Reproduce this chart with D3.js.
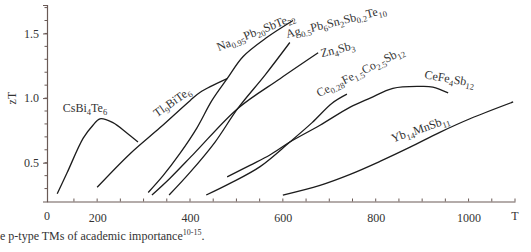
<!DOCTYPE html>
<html>
<head>
<meta charset="utf-8">
<script src="https://cdn.jsdelivr.net/npm/d3@7/dist/d3.min.js"></script>
<style>
  html, body { margin: 0; padding: 0; background: #fff; }
  svg { display: block; }
  svg text { font-family: "Liberation Serif", "Times New Roman", "DejaVu Serif", serif !important; fill: #333; }
</style>
</head>
<body>
<svg id="chart" width="531" height="252" font-family="Liberation Serif"></svg>
<script>
// ---- data (T in K, zT) ----
const csBi4Te6 = [[114,0.26],[135,0.42],[170,0.69],[191,0.79],[206,0.84],[234,0.81],[264,0.73],[288,0.66]];
const tl9BiTe6 = [[200,0.31],[271,0.57],[335,0.77],[400,0.98],[422,1.045],[480,1.15]];
const naPbSbTe = [[310,0.27],[342,0.40],[378,0.57],[415,0.77],[447,0.98],[480,1.15],[514,1.32],[566,1.47],[622,1.60]];
const zn4Sb3   = [[318,0.25],[357,0.38],[411,0.58],[503,0.92],[594,1.15],[676,1.35]];
const agPbSnSbTe = [[355,0.25],[400,0.425],[454,0.66],[503,0.92],[562,1.18],[615,1.43]];
const ceFeCoSb = [[435,0.25],[486,0.34],[551,0.47],[615,0.66],[663,0.81],[706,0.96],[738,1.03]];
const ceFe4Sb12 = [[480,0.39],[529,0.48],[572,0.56],[615,0.66],[680,0.79],[745,0.93],[788,1.0],[837,1.075],[895,1.09],[923,1.085],[956,1.04]];
const yb14MnSb11 = [[600,0.25],[680,0.325],[745,0.41],[809,0.51],[874,0.62],[938,0.735],[1003,0.84],[1096,0.97]];

const seriesList = [csBi4Te6, tl9BiTe6, naPbSbTe, zn4Sb3, agPbSnSbTe, ceFeCoSb, ceFe4Sb12, yb14MnSb11];
const seriesNames = ["CsBi_{4}Te_{6}", "Tl_{9}BiTe_{6}", "Na_{0.95}Pb_{20}SbTe_{22}", "Zn_{4}Sb_{3}",
                     "Ag_{0.5}Pb_{6}Sn_{2}Sb_{0.2}Te_{10}", "Ce_{0.28}Fe_{1.5}Co_{2.5}Sb_{12}", "CeFe_{4}Sb_{12}", "Yb_{14}MnSb_{11}"];
// label anchors in data units [T, zT, rotation]
const labelAnchors = [[126,0.89,0],[329,0.85,-35],[462,1.363,-22],[684,1.316,-14],[609,1.464,-14],[678,1.006,-27],[904,1.153,10],[837,0.657,-19]];

const xTickValues = [200, 400, 600, 800, 1000];
const xTickLabels = ["200", "400", "600", "800", "1000"];
const yTickValues = [0.5, 1.0, 1.5];
const yTickLabels = ["0.5", "1.0", "1.5"];
const caption = "e p-type TMs of academic importance";
const captionSup = "10-15";

// ---- drawing ----
const FONT = '"Liberation Serif", "Times New Roman", "DejaVu Serif", serif';
const svg = d3.select("#chart");
const axisColor = "#6a5a56";
const x = d3.scaleLinear().domain([92, 1100]).range([47, 515]);
const y = d3.scaleLinear().domain([0.2, 1.72]).range([201.5, 5]);

// y axis
const yAxis = d3.axisLeft(y).tickValues(yTickValues).tickFormat((d,i) => yTickLabels[i]).tickSize(4).tickPadding(4);
const gy = svg.append("g").attr("transform", `translate(${x.range()[0]},0)`).call(yAxis).attr("font-family", FONT);
gy.select(".domain").attr("stroke", axisColor).attr("stroke-width", 1.2);
gy.selectAll(".tick line").attr("stroke", axisColor);
gy.selectAll(".tick text").attr("font-family", FONT).style("font-size", "12px").attr("fill", "#333");
// y minor ticks
const yMinor = d3.range(3, 18).map(v => v / 10);
svg.append("g").selectAll("line").data(yMinor).join("line")
  .attr("x1", x.range()[0] - 2.5).attr("x2", x.range()[0])
  .attr("y1", d => y(d)).attr("y2", d => y(d))
  .attr("stroke", axisColor).attr("stroke-width", 1);

// x axis
const xAxis = d3.axisBottom(x).tickValues(xTickValues).tickFormat((d,i) => xTickLabels[i]).tickSize(0).tickPadding(12);
const gx = svg.append("g").attr("transform", `translate(0,${y.range()[0]})`).call(xAxis).attr("font-family", FONT);
gx.select(".domain").attr("stroke", axisColor).attr("stroke-width", 1.2);
gx.selectAll(".tick text").attr("font-family", FONT).style("font-size", "12px").attr("fill", "#333");
// x ticks (inside, every 50)
const xMinor = d3.range(150, 1101, 50);
svg.append("g").selectAll("line").data(xMinor).join("line")
  .attr("x1", d => x(d)).attr("x2", d => x(d))
  .attr("y1", y.range()[0] - 3).attr("y2", y.range()[0])
  .attr("stroke", axisColor).attr("stroke-width", 1);
// origin label
svg.append("text").attr("x", x.range()[0]).attr("y", y.range()[0] + 18)
  .attr("text-anchor", "middle").style("font-size", "12px").text("0");
// axis titles
svg.append("text").attr("x", x.range()[1]).attr("y", y.range()[0] + 18)
  .attr("text-anchor", "middle").style("font-size", "12px").text("T");
svg.append("text").attr("transform", `translate(16,${y(1.0)}) rotate(-90)`)
  .attr("text-anchor", "middle").style("font-size", "12px").text("zT");

// curves
const line = d3.line().x(d => x(d[0])).y(d => y(d[1])).curve(d3.curveCatmullRom.alpha(0.5));
svg.append("g").selectAll("path").data(seriesList).join("path")
  .attr("d", line).attr("fill", "none").attr("stroke", "#1c1c1c").attr("stroke-width", 1.3);

// labels with subscripts
function addRich(sel, str, fs, subFs) {
  const parts = str.split(/(_\{[^}]*\})/).filter(s => s.length);
  let sub = false;
  parts.forEach(p => {
    if (p.startsWith("_{")) {
      sel.append("tspan").attr("dy", sub ? 0 : 3).style("font-size", subFs + "px").text(p.slice(2, -1));
      sub = true;
    } else {
      sel.append("tspan").attr("dy", sub ? -3 : 0).style("font-size", fs + "px").text(p);
      sub = false;
    }
  });
}
seriesNames.forEach((name, i) => {
  const a = labelAnchors[i];
  const t = svg.append("text")
    .attr("transform", `translate(${x(a[0])},${y(a[1])}) rotate(${a[2]})`);
  addRich(t, name, 12, 8.5);
});

// caption
const cap = svg.append("text").attr("x", 0).attr("y", 240).style("font-size", "12px");
cap.append("tspan").text(caption);
cap.append("tspan").attr("dy", -5).style("font-size", "8px").text(captionSup);
cap.append("tspan").attr("dy", 5).text(".");
</script>
</body>
</html>
